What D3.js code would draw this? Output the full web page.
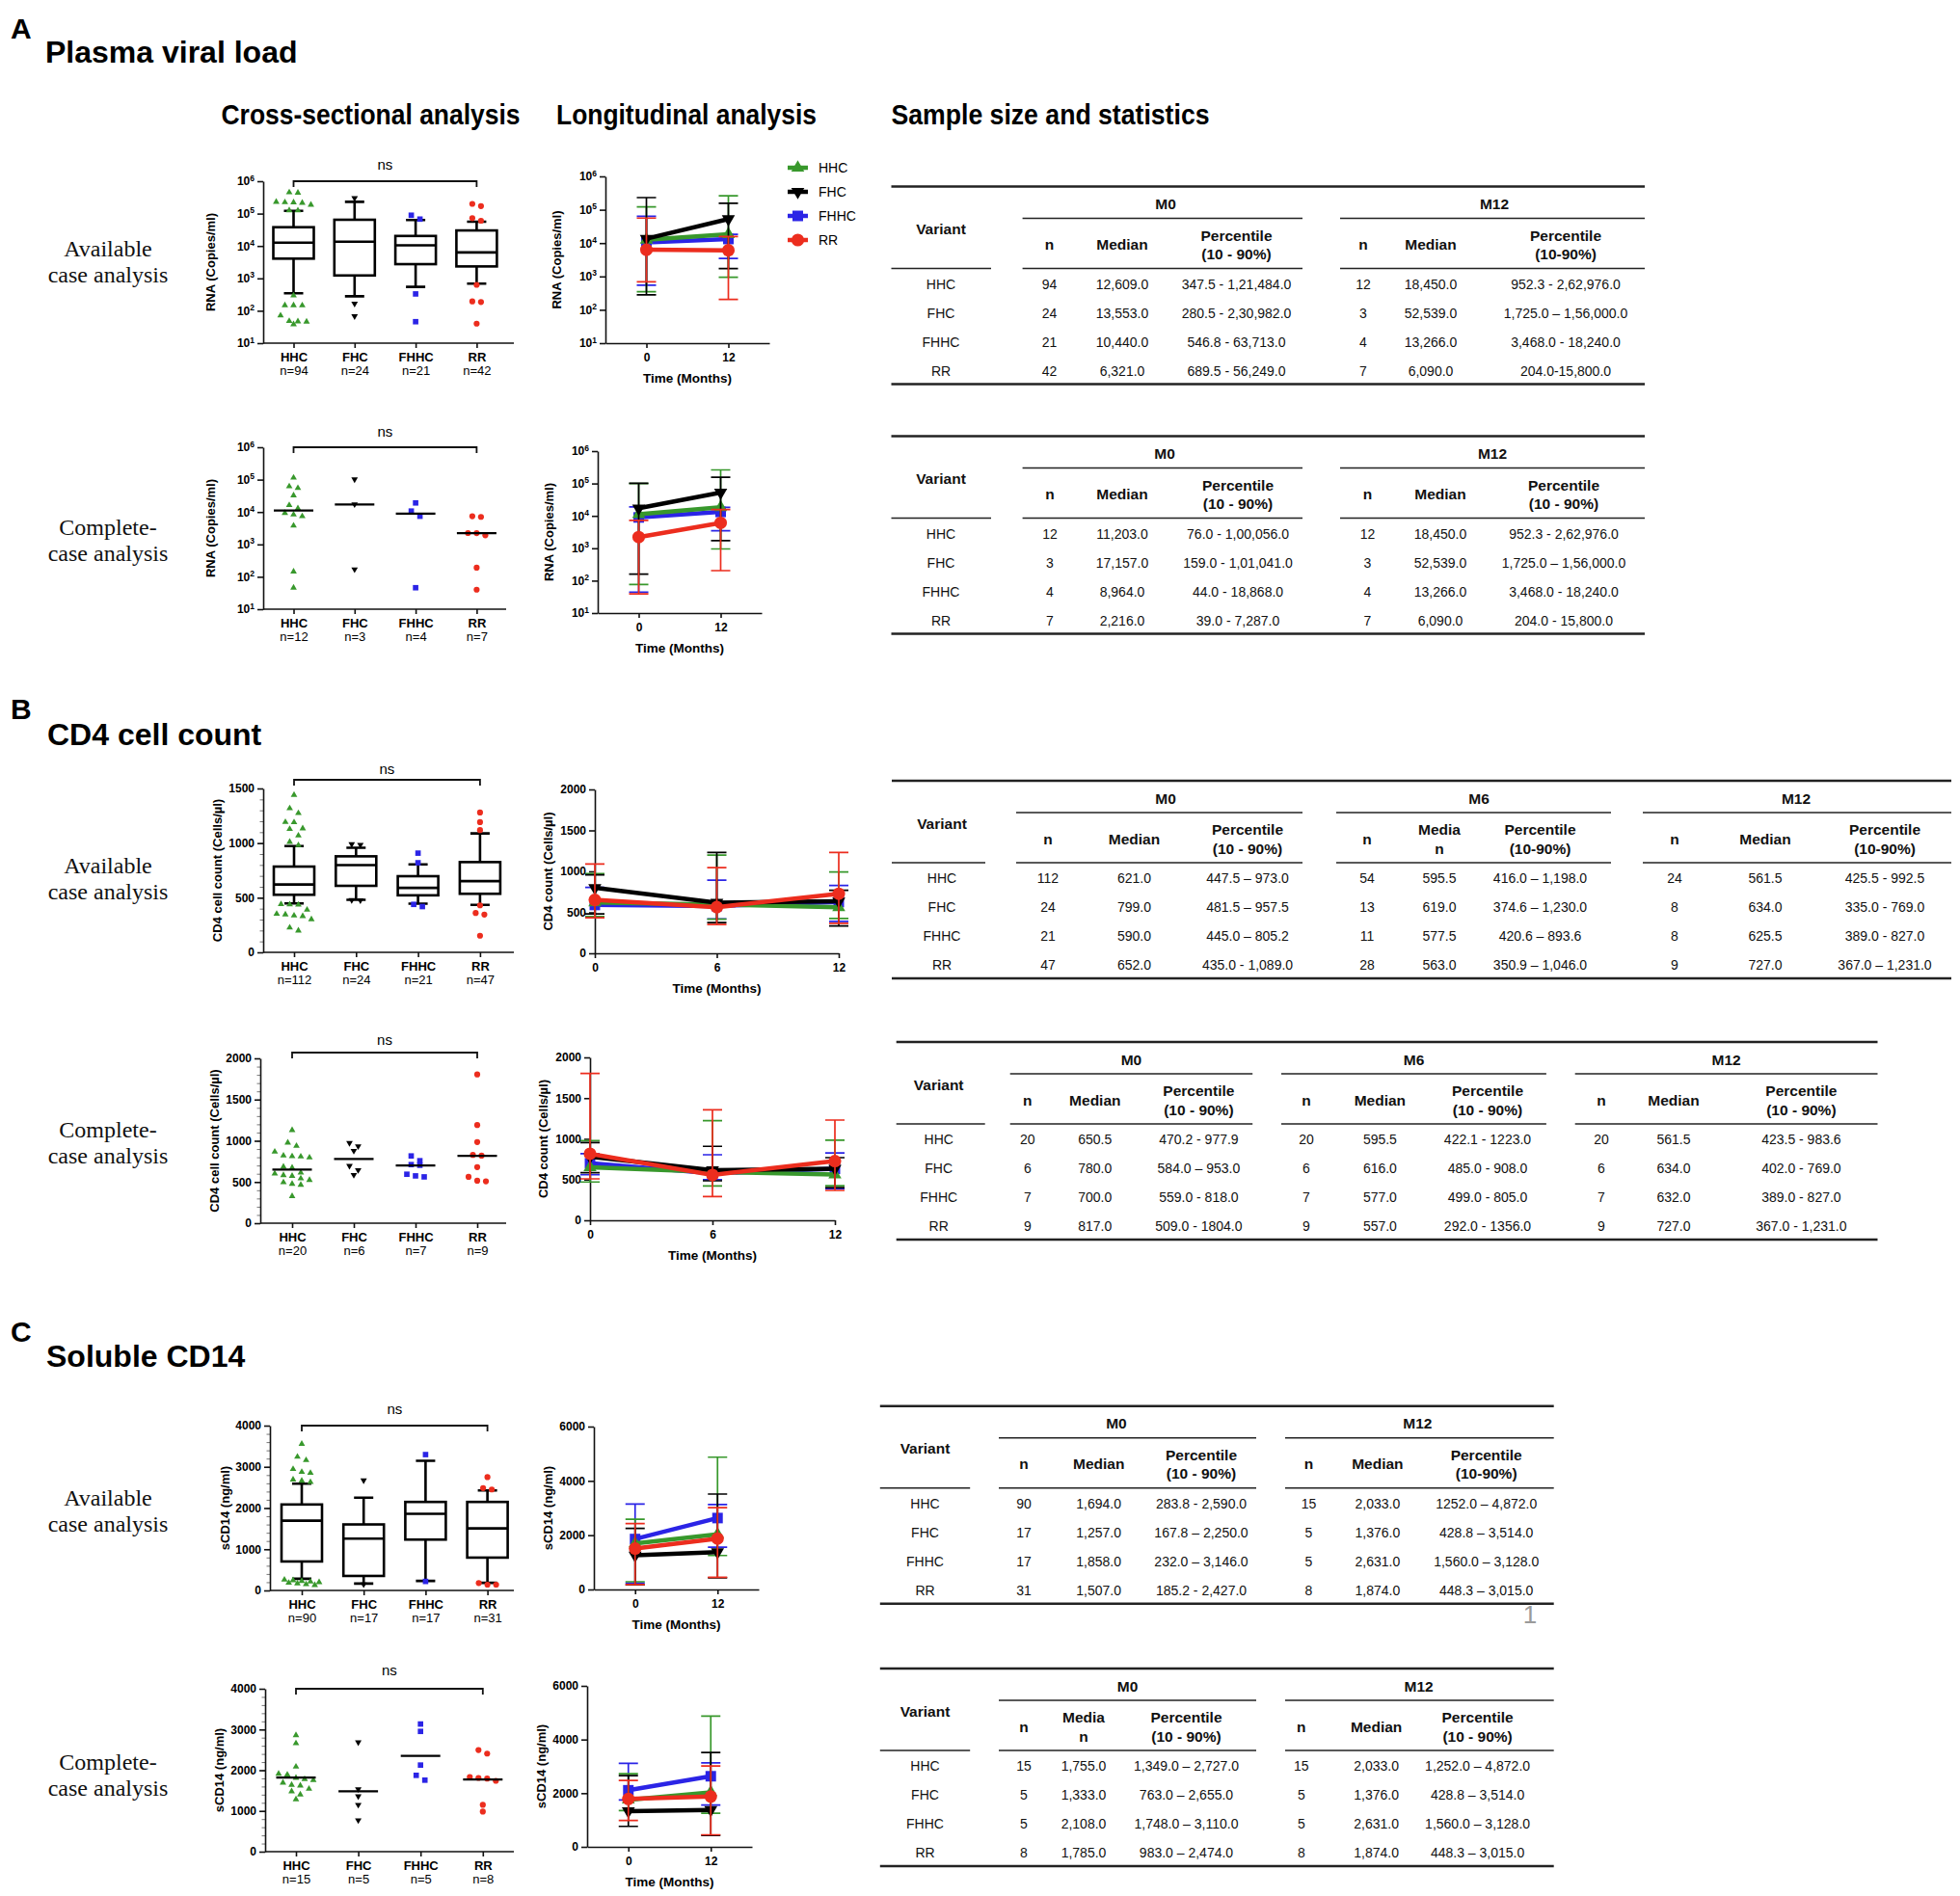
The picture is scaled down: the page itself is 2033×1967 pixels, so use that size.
<!DOCTYPE html>
<html>
<head>
<meta charset="utf-8">
<script src="https://cdn.jsdelivr.net/npm/d3@7"></script>
<style>
  body { margin: 0; background: #fff; }
  svg { display: block; }
</style>
</head>
<body>
<script>
// ---- groups ----
const groups = ["HHC", "FHC", "FHHC", "RR"];
const groupColors = ["#38982c", "#000000", "#2b24e6", "#ec2d1e"];
const groupSymbols = ["up", "down", "square", "circle"];

// ---- A: plasma viral load, cross-sectional ----
const vlAvailN = [94, 24, 21, 42];
const vlAvailQ1 = [4070, 1230, 2750, 2340];
const vlAvailMedian = [12609, 13553, 10440, 6321];
const vlAvailQ3 = [38000, 64600, 20400, 30200];
const vlAvailP10 = [347.5, 280.5, 546.8, 689.5];
const vlAvailP90 = [121484, 230982, 63713, 56249];
const vlAvailOutliers = [
  [450000, 440000, 229000, 224000, 222000, 214000, 186000, 126000, 125000, 295, 148, 147, 146, 71, 48, 47, 46, 38],
  [302000, 166, 68],
  [89100, 67600, 331, 46],
  [200000, 170000, 72400, 60300, 631, 195, 186, 40]
];
const vlCompleteN = [12, 3, 4, 7];
const vlCompleteValues = [
  [115000, 61700, 55000, 32400, 16200, 12900, 9330, 8320, 7410, 3800, 145, 46],
  [102000, 17400, 170],
  [19100, 10700, 7410, 46],
  [7410, 7080, 2240, 2230, 1910, 191, 40]
];
const vlCompleteMedian = [11203, 17157, 8964, 2216];

// ---- A: longitudinal ----
const vlTime = [0, 12];
const vlAvailLongMedian = [[12609, 18450], [13553, 52539], [10440, 13266], [6321, 6090]];
const vlAvailLongP10 = [[347.5, 952.3], [280.5, 1725], [546.8, 3468], [689.5, 204]];
const vlAvailLongP90 = [[121484, 262976], [230982, 156000], [63713, 18240], [56249, 15800]];
const vlCompleteLongMedian = [[11203, 18450], [17157, 52539], [8964, 13266], [2216, 6090]];
const vlCompleteLongP10 = [[76, 952.3], [159, 1725], [44, 3468], [39, 204]];
const vlCompleteLongP90 = [[100056, 262976], [101041, 156000], [18868, 18240], [7287, 15800]];

// ---- B: CD4 cell count, cross-sectional ----
const cd4AvailN = [112, 24, 21, 47];
const cd4AvailQ1 = [527, 609, 522, 536];
const cd4AvailMedian = [621, 799, 590, 652];
const cd4AvailQ3 = [785, 879, 697, 826];
const cd4AvailP10 = [447.5, 481.5, 445, 435];
const cd4AvailP90 = [973, 957.5, 805.2, 1089];
const cd4AvailOutliers = [
  [1441, 1318, 1274, 1192, 1190, 1134, 1128, 1069, 1011, 981, 440, 438, 436, 390, 352, 346, 337, 331, 302, 226, 199],
  [990, 985, 478, 476],
  [908, 820, 439, 419],
  [1280, 1192, 1119, 430, 360, 346, 152]
];
const cd4CompleteN = [20, 6, 7, 9];
const cd4CompleteValues = [
  [1129, 977, 937, 867, 820, 812, 809, 797, 684, 672, 613, 601, 582, 574, 543, 523, 496, 477, 465, 328],
  [973, 934, 879, 695, 645, 586],
  [816, 758, 711, 703, 594, 574, 562],
  [1805, 1191, 984, 828, 820, 680, 562, 516, 508]
];
const cd4CompleteMedian = [650.5, 780, 700, 817];

// ---- B: longitudinal ----
const cd4Time = [0, 6, 12];
const cd4AvailLongMedian = [[621, 595.5, 561.5], [799, 619, 634], [590, 577.5, 625.5], [652, 563, 727]];
const cd4AvailLongP10 = [[447.5, 416, 425.5], [481.5, 374.6, 335], [445, 420.6, 389], [435, 350.9, 367]];
const cd4AvailLongP90 = [[973, 1198, 992.5], [957.5, 1230, 769], [805.2, 893.6, 827], [1089, 1046, 1231]];
const cd4CompleteLongMedian = [[650.5, 595.5, 561.5], [780, 616, 634], [700, 577, 632], [817, 557, 727]];
const cd4CompleteLongP10 = [[470.2, 422.1, 423.5], [584, 485, 402], [559, 499, 389], [509, 292, 367]];
const cd4CompleteLongP90 = [[977.9, 1223, 983.6], [953, 908, 769], [818, 805, 827], [1804, 1356, 1231]];

// ---- C: soluble CD14, cross-sectional ----
const scdAvailN = [90, 17, 17, 31];
const scdAvailQ1 = [703, 352, 1234, 797];
const scdAvailMedian = [1694, 1257, 1858, 1507];
const scdAvailQ3 = [2086, 1602, 2148, 2148];
const scdAvailP10 = [283.8, 167.8, 232, 185.2];
const scdAvailP90 = [2590, 2250, 3146, 2427];
const scdAvailOutliers = [
  [3555, 3242, 3160, 2945, 2875, 2850, 2690, 2660, 2630, 260, 245, 230, 215, 200, 185, 170, 150, 130],
  [2672, 150],
  [3297, 219],
  [2750, 2484, 2450, 180, 141, 140]
];
const scdCompleteN = [15, 5, 5, 8];
const scdCompleteValues = [
  [2858, 2661, 2087, 1913, 1890, 1811, 1780, 1756, 1693, 1638, 1622, 1543, 1480, 1402, 1283],
  [2685, 1535, 1362, 1150, 772],
  [3134, 2953, 2126, 1874, 1756],
  [2496, 2409, 1835, 1811, 1795, 1740, 1150, 984]
];
const scdCompleteMedian = [1820, 1480, 2350, 1772];

// ---- C: longitudinal ----
const scdTime = [0, 12];
const scdAvailLongMedian = [[1694, 2033], [1257, 1376], [1858, 2631], [1507, 1874]];
const scdAvailLongP10 = [[283.8, 1252], [167.8, 428.8], [232, 1560], [185.2, 448.3]];
const scdAvailLongP90 = [[2590, 4872], [2250, 3514], [3146, 3128], [2427, 3015]];
const scdCompleteLongMedian = [[1755, 2033], [1333, 1376], [2108, 2631], [1785, 1874]];
const scdCompleteLongP10 = [[1349, 1252], [763, 428.8], [1748, 1560], [983, 448.3]];
const scdCompleteLongP90 = [[2727, 4872], [2655, 3514], [3110, 3128], [2474, 3015]];

// ---- tables (sample size and statistics) ----
const tableVlAvail = [
  ["HHC", "94", "12,609.0", "347.5 - 1,21,484.0", "12", "18,450.0", "952.3 - 2,62,976.0"],
  ["FHC", "24", "13,553.0", "280.5 - 2,30,982.0", "3", "52,539.0", "1,725.0 \u2013 1,56,000.0"],
  ["FHHC", "21", "10,440.0", "546.8 - 63,713.0", "4", "13,266.0", "3,468.0 - 18,240.0"],
  ["RR", "42", "6,321.0", "689.5 - 56,249.0", "7", "6,090.0", "204.0-15,800.0"]
];
const tableVlComplete = [
  ["HHC", "12", "11,203.0", "76.0 - 1,00,056.0", "12", "18,450.0", "952.3 - 2,62,976.0"],
  ["FHC", "3", "17,157.0", "159.0 - 1,01,041.0", "3", "52,539.0", "1,725.0 \u2013 1,56,000.0"],
  ["FHHC", "4", "8,964.0", "44.0 - 18,868.0", "4", "13,266.0", "3,468.0 - 18,240.0"],
  ["RR", "7", "2,216.0", "39.0 - 7,287.0", "7", "6,090.0", "204.0 - 15,800.0"]
];
const tableCd4Avail = [
  ["HHC", "112", "621.0", "447.5 \u2013 973.0", "54", "595.5", "416.0 \u2013 1,198.0", "24", "561.5", "425.5 - 992.5"],
  ["FHC", "24", "799.0", "481.5 \u2013 957.5", "13", "619.0", "374.6 \u2013 1,230.0", "8", "634.0", "335.0 - 769.0"],
  ["FHHC", "21", "590.0", "445.0 \u2013 805.2", "11", "577.5", "420.6 \u2013 893.6", "8", "625.5", "389.0 - 827.0"],
  ["RR", "47", "652.0", "435.0 - 1,089.0", "28", "563.0", "350.9 \u2013 1,046.0", "9", "727.0", "367.0 \u2013 1,231.0"]
];
const tableCd4Complete = [
  ["HHC", "20", "650.5", "470.2 - 977.9", "20", "595.5", "422.1 - 1223.0", "20", "561.5", "423.5 - 983.6"],
  ["FHC", "6", "780.0", "584.0 \u2013 953.0", "6", "616.0", "485.0 - 908.0", "6", "634.0", "402.0 - 769.0"],
  ["FHHC", "7", "700.0", "559.0 - 818.0", "7", "577.0", "499.0 - 805.0", "7", "632.0", "389.0 - 827.0"],
  ["RR", "9", "817.0", "509.0 - 1804.0", "9", "557.0", "292.0 - 1356.0", "9", "727.0", "367.0 - 1,231.0"]
];
const tableScdAvail = [
  ["HHC", "90", "1,694.0", "283.8 - 2,590.0", "15", "2,033.0", "1252.0 \u2013 4,872.0"],
  ["FHC", "17", "1,257.0", "167.8 \u2013 2,250.0", "5", "1,376.0", "428.8 \u2013 3,514.0"],
  ["FHHC", "17", "1,858.0", "232.0 \u2013 3,146.0", "5", "2,631.0", "1,560.0 \u2013 3,128.0"],
  ["RR", "31", "1,507.0", "185.2 - 2,427.0", "8", "1,874.0", "448.3 \u2013 3,015.0"]
];
const tableScdComplete = [
  ["HHC", "15", "1,755.0", "1,349.0 \u2013 2,727.0", "15", "2,033.0", "1,252.0 \u2013 4,872.0"],
  ["FHC", "5", "1,333.0", "763.0 \u2013 2,655.0", "5", "1,376.0", "428.8 \u2013 3,514.0"],
  ["FHHC", "5", "2,108.0", "1,748.0 \u2013 3,110.0", "5", "2,631.0", "1,560.0 \u2013 3,128.0"],
  ["RR", "8", "1,785.0", "983.0 \u2013 2,474.0", "8", "1,874.0", "448.3 \u2013 3,015.0"]
];

// ================= drawing =================
const FONT = '"Liberation Sans", Arial, Helvetica, sans-serif';
const SERIF = '"Liberation Serif", "Times New Roman", serif';
const W = 2033, H = 1967;

const svg = d3.select("body").append("svg")
  .attr("width", W).attr("height", H)
  .attr("font-family", FONT);
svg.append("rect").attr("width", W).attr("height", H).attr("fill", "#fff");

const symbolTypes = { up: d3.symbolTriangle, down: d3.symbolTriangle, square: d3.symbolSquare, circle: d3.symbolCircle };
const smallSize = { up: 20, down: 20, square: 32, circle: 30 };
const bigSize = { up: 80, down: 80, square: 120, circle: 135 };

function mark(g, kind, x, y, size, color) {
  g.append("path")
    .attr("d", d3.symbol().type(symbolTypes[kind]).size(size)())
    .attr("fill", color)
    .attr("transform", `translate(${x},${y})` + (kind === "down" ? " rotate(180)" : ""));
}

function styleAxis(sel, fs) {
  sel.attr("font-family", FONT);
  sel.select(".domain").attr("stroke", "#111").attr("stroke-width", 1.6);
  sel.selectAll(".tick line").attr("stroke", "#111").attr("stroke-width", 1.6);
  sel.selectAll(".tick text").attr("fill", "#000").attr("font-size", fs).attr("font-weight", "bold");
}

function supers(sel) {
  sel.selectAll(".tick text").each(function (v) {
    const t = d3.select(this);
    t.text("10");
    t.append("tspan").attr("dy", "-0.55em").attr("font-size", 8.5).text(Math.round(Math.log10(v)));
  });
}

// horizontal spread of points that sit at nearly the same height
function swarm(vals, y, step, rowH, rowMax) {
  const sorted = vals.slice().sort((a, b) => b - a);
  const rows = [];
  let cur = null;
  sorted.forEach(v => {
    const py = y(v);
    if (!cur || py - cur.y0 > rowH || cur.items.length >= rowMax) {
      cur = { y0: py, items: [] };
      rows.push(cur);
    }
    cur.items.push(v);
  });
  const out = [];
  rows.forEach(r => r.items.forEach((v, i) => out.push({ v: v, dx: (i - (r.items.length - 1) / 2) * step })));
  return out;
}

function yLabel(g, x, y, label) {
  g.append("text")
    .attr("transform", `translate(${x},${y}) rotate(-90)`)
    .attr("dy", "0.35em").attr("text-anchor", "middle")
    .attr("font-weight", "bold").attr("font-size", 13)
    .text(label);
}

function yAxis(g, c, y) {
  const yTicks = c.log ? [10, 100, 1e3, 1e4, 1e5, 1e6] : d3.range(0, c.max + 1, c.major);
  const ax = d3.axisLeft(y).tickValues(yTicks).tickSize(6).tickSizeOuter(0).tickPadding(3);
  if (!c.log) ax.tickFormat(d3.format("d"));
  const ya = g.append("g").attr("transform", `translate(${c.ax},0)`).call(ax);
  styleAxis(ya, 12);
  if (c.log) supers(ya);
}

function crossPlot(c, d) {
  const g = svg.append("g");
  const y = c.log ? d3.scaleLog().domain([10, 1e6]).range([c.bot, c.top])
                  : d3.scaleLinear().domain([0, c.max]).range([c.bot, c.top]);
  const x = d3.scalePoint().domain(groups).range([c.c0, c.c0 + 3 * c.step]);

  if (c.minor) {
    const mg = g.append("g").attr("transform", `translate(${c.ax},0)`)
      .call(d3.axisLeft(y).tickValues(d3.range(0, c.max + 1, c.minor)).tickSize(3.5).tickSizeOuter(0).tickFormat(""));
    mg.select(".domain").remove();
    mg.selectAll(".tick line").attr("stroke", "#777").attr("stroke-width", 1);
  }
  yAxis(g, c, y);

  const xa = g.append("g").attr("transform", `translate(0,${c.bot})`)
    .call(d3.axisBottom(x).tickSize(5).tickSizeOuter(0).tickFormat(""));
  xa.select(".domain").attr("d", `M${c.ax},0H${c.xEnd}`);
  styleAxis(xa, 13);
  xa.selectAll(".tick").each(function (gname, i) {
    const t = d3.select(this);
    t.append("text").attr("y", 19).attr("text-anchor", "middle").attr("font-weight", "bold")
      .attr("font-size", 13).attr("fill", "#000").text(gname);
    t.append("text").attr("y", 33).attr("text-anchor", "middle")
      .attr("font-size", 13).attr("fill", "#000").text("n=" + d.n[i]);
  });

  yLabel(g, c.ax + c.labelDx, (c.top + c.bot) / 2, c.label);

  // ns bracket
  const by = c.top + c.bracketDy, bx0 = x("HHC"), bx1 = x("RR");
  g.append("path").attr("d", `M${bx0},${by + 6}V${by}H${bx1}V${by + 6}`)
    .attr("fill", "none").attr("stroke", "#111").attr("stroke-width", 1.8);
  g.append("text").attr("x", (bx0 + bx1) / 2).attr("y", by + c.nsDy + 5)
    .attr("text-anchor", "middle").attr("font-size", 15).text("ns");

  if (d.q1) {
    groups.forEach((gn, i) => {
      const cx = x(gn), hw = 21, cw = 10;
      const yq1 = y(d.q1[i]), yq3 = y(d.q3[i]), ymd = y(d.median[i]);
      const ylo = y(d.p10[i]), yhi = y(d.p90[i]);
      g.append("path")
        .attr("d", `M${cx},${yq3}V${yhi}M${cx - cw},${yhi}H${cx + cw}M${cx},${yq1}V${ylo}M${cx - cw},${ylo}H${cx + cw}`)
        .attr("stroke", "#000").attr("stroke-width", 2.6).attr("fill", "none");
      g.append("rect").attr("x", cx - hw).attr("y", yq3).attr("width", 2 * hw).attr("height", yq1 - yq3)
        .attr("fill", "#fff").attr("stroke", "#000").attr("stroke-width", 2.6);
      g.append("line").attr("x1", cx - hw).attr("x2", cx + hw).attr("y1", ymd).attr("y2", ymd)
        .attr("stroke", "#000").attr("stroke-width", 2.6);
    });
  }
  groups.forEach((gn, i) => {
    const vals = d.q1 ? d.outliers[i] : d.values[i];
    swarm(vals, y, 9, 7, 5).forEach(p =>
      mark(g, groupSymbols[i], x(gn) + p.dx, y(p.v), smallSize[groupSymbols[i]], groupColors[i]));
  });
  if (!d.q1) {
    groups.forEach((gn, i) => {
      const ym = y(d.median[i]);
      g.append("line").attr("x1", x(gn) - 20.5).attr("x2", x(gn) + 20.5).attr("y1", ym).attr("y2", ym)
        .attr("stroke", "#000").attr("stroke-width", 2.2);
    });
  }
}

const drawOrder = [2, 0, 1, 3];

function longPlot(c, d) {
  const g = svg.append("g");
  const y = c.log ? d3.scaleLog().domain([10, 1e6]).range([c.bot, c.top])
                  : d3.scaleLinear().domain([0, c.max]).range([c.bot, c.top]);
  const x = d3.scaleLinear().domain(c.xDomain).range([c.ax, c.xEnd]);
  yAxis(g, c, y);
  const xa = g.append("g").attr("transform", `translate(0,${c.bot})`)
    .call(d3.axisBottom(x).tickValues(c.xTicks).tickSize(5).tickSizeOuter(0).tickPadding(5).tickFormat(d3.format("d")));
  styleAxis(xa, 12);
  g.append("text").attr("x", (c.ax + c.xEnd) / 2).attr("y", c.bot + 41)
    .attr("text-anchor", "middle").attr("font-weight", "bold").attr("font-size", 13.5).text("Time (Months)");
  yLabel(g, c.ax + c.labelDx, (c.top + c.bot) / 2, c.label);

  drawOrder.forEach(i => {
    const col = groupColors[i];
    d.time.forEach((t, k) => {
      const xx = x(t), lo = y(d.p10[i][k]), hi = y(d.p90[i][k]);
      g.append("path")
        .attr("d", `M${xx},${hi}V${lo}M${xx - 10},${hi}H${xx + 10}M${xx - 10},${lo}H${xx + 10}`)
        .attr("stroke", col).attr("stroke-width", 1.7).attr("fill", "none");
    });
    g.append("path")
      .datum(d.time.map((t, k) => [x(t), y(d.median[i][k])]))
      .attr("d", d3.line())
      .attr("stroke", col).attr("stroke-width", 4.5).attr("fill", "none");
    d.time.forEach((t, k) => mark(g, groupSymbols[i], x(t), y(d.median[i][k]), bigSize[groupSymbols[i]], col));
  });
}

function drawTable(c, rows) {
  const g = svg.append("g").attr("fill", "#111");
  const t = c.top;
  const rule = (x0, x1, yy, w) => g.append("line").attr("x1", x0).attr("x2", x1).attr("y1", yy).attr("y2", yy)
    .attr("stroke", "#222").attr("stroke-width", w);
  const txt = (xx, yc, s, bold) => {
    const fs = bold ? 15.5 : 14;
    g.append("text").attr("x", xx).attr("y", yc + fs * 0.36)
      .attr("text-anchor", "middle").attr("font-size", fs).attr("font-weight", bold ? "bold" : null).text(s);
  };

  rule(c.x0, c.x1, t, 2.4);
  rule(c.x0, c.x1, t + 205, 2.4);
  rule(c.x0, c.varEnd, t + 85, 1.6);
  txt(c.varX, t + 44, "Variant", true);
  c.blocks.forEach(b => {
    txt(b.labelX, t + 18, b.label, true);
    rule(b.x0, b.x1, t + 33, 1.6);
    rule(b.x0, b.x1, t + 85, 1.6);
    txt(b.nX, t + 60, "n", true);
    if (b.split) {
      txt(b.medX, t + 50.5, "Media", true);
      txt(b.medX, t + 70, "n", true);
    } else {
      txt(b.medX, t + 60, "Median", true);
    }
    txt(b.pctX, t + 50.5, "Percentile", true);
    txt(b.pctX, t + 70, b.sub, true);
  });
  rows.forEach((r, i) => {
    const yc = t + 101 + 30 * i;
    txt(c.varX, yc, r[0]);
    c.blocks.forEach((b, j) => {
      txt(b.nX, yc, r[1 + 3 * j]);
      txt(b.medX, yc, r[2 + 3 * j]);
      txt(b.pctX, yc, r[3 + 3 * j]);
    });
  });
}

// ---- headings ----
function heading(x, y, s, fs, len) {
  const t = svg.append("text").attr("x", x).attr("y", y).attr("font-weight", "bold").attr("font-size", fs).attr("fill", "#000").text(s);
  if (len) t.attr("textLength", len).attr("lengthAdjust", "spacingAndGlyphs");
}
heading(11, 40, "A", 30);
heading(47, 65, "Plasma viral load", 32);
heading(11, 746, "B", 30);
heading(49, 773, "CD4 cell count", 32);
heading(11, 1392, "C", 30);
heading(48, 1418, "Soluble CD14", 32);
heading(229.5, 129, "Cross-sectional analysis", 30, 310);
heading(577, 129, "Longitudinal analysis", 30, 270);
heading(924.5, 129, "Sample size and statistics", 30, 330);

function rowLabel(yb, first) {
  [first, "case analysis"].forEach((s, k) => svg.append("text")
    .attr("x", 112).attr("y", yb + 27 * k).attr("text-anchor", "middle")
    .attr("font-family", SERIF).attr("font-size", 24).attr("fill", "#111").text(s));
}
rowLabel(266, "Available");
rowLabel(555, "Complete-");
rowLabel(906, "Available");
rowLabel(1180, "Complete-");
rowLabel(1562, "Available");
rowLabel(1836, "Complete-");

// ---- panel A ----
crossPlot({ ax: 273, top: 188, bot: 356, xEnd: 533, c0: 304.5, step: 63.3, log: true,
  label: "RNA (Copies/ml)", labelDx: -55, bracketDy: 0, nsDy: -17 },
  { n: vlAvailN, q1: vlAvailQ1, median: vlAvailMedian, q3: vlAvailQ3, p10: vlAvailP10, p90: vlAvailP90, outliers: vlAvailOutliers });
crossPlot({ ax: 273, top: 464, bot: 632, xEnd: 525, c0: 304.5, step: 63.3, log: true,
  label: "RNA (Copies/ml)", labelDx: -55, bracketDy: 0, nsDy: -16 },
  { n: vlCompleteN, values: vlCompleteValues, median: vlCompleteMedian });
longPlot({ ax: 628, top: 183, bot: 356, xEnd: 798, xDomain: [-6, 18], xTicks: [0, 12], log: true,
  label: "RNA (Copies/ml)", labelDx: -51 },
  { time: vlTime, median: vlAvailLongMedian, p10: vlAvailLongP10, p90: vlAvailLongP90 });
longPlot({ ax: 620, top: 468, bot: 636, xEnd: 790, xDomain: [-6, 18], xTicks: [0, 12], log: true,
  label: "RNA (Copies/ml)", labelDx: -51 },
  { time: vlTime, median: vlCompleteLongMedian, p10: vlCompleteLongP10, p90: vlCompleteLongP90 });

// legend
const legend = svg.append("g");
groups.forEach((gn, i) => {
  const ly = 174 + 25 * i;
  legend.append("line").attr("x1", 817).attr("x2", 838).attr("y1", ly).attr("y2", ly)
    .attr("stroke", groupColors[i]).attr("stroke-width", 4.5);
  mark(legend, groupSymbols[i], 827.5, ly, bigSize[groupSymbols[i]], groupColors[i]);
  legend.append("text").attr("x", 849).attr("y", ly + 5).attr("font-size", 14).text(gn);
});

// ---- panel B ----
crossPlot({ ax: 273, top: 818, bot: 988, xEnd: 533, c0: 305, step: 64.3, max: 1500, major: 500, minor: 100,
  label: "CD4 cell count (Cells/\u00b5l)", labelDx: -48, bracketDy: -9, nsDy: -11 },
  { n: cd4AvailN, q1: cd4AvailQ1, median: cd4AvailMedian, q3: cd4AvailQ3, p10: cd4AvailP10, p90: cd4AvailP90, outliers: cd4AvailOutliers });
crossPlot({ ax: 270, top: 1098, bot: 1269, xEnd: 525, c0: 303, step: 64, max: 2000, major: 500, minor: 100,
  label: "CD4 cell count (Cells/\u00b5l)", labelDx: -48, bracketDy: -6, nsDy: -13 },
  { n: cd4CompleteN, values: cd4CompleteValues, median: cd4CompleteMedian });
longPlot({ ax: 617, top: 819, bot: 989, xEnd: 870, xDomain: [0, 12], xTicks: [0, 6, 12], max: 2000, major: 500,
  label: "CD4 count (Cells/\u00b5l)", labelDx: -49 },
  { time: cd4Time, median: cd4AvailLongMedian, p10: cd4AvailLongP10, p90: cd4AvailLongP90 });
longPlot({ ax: 612, top: 1097, bot: 1266, xEnd: 866, xDomain: [0, 12], xTicks: [0, 6, 12], max: 2000, major: 500,
  label: "CD4 count (Cells/\u00b5l)", labelDx: -49 },
  { time: cd4Time, median: cd4CompleteLongMedian, p10: cd4CompleteLongP10, p90: cd4CompleteLongP90 });

// ---- panel C ----
crossPlot({ ax: 280, top: 1479, bot: 1650, xEnd: 533, c0: 313, step: 64.2, max: 4000, major: 1000, minor: 200,
  label: "sCD14 (ng/ml)", labelDx: -47, bracketDy: 0, nsDy: -17 },
  { n: scdAvailN, q1: scdAvailQ1, median: scdAvailMedian, q3: scdAvailQ3, p10: scdAvailP10, p90: scdAvailP90, outliers: scdAvailOutliers });
crossPlot({ ax: 275, top: 1752, bot: 1921, xEnd: 533, c0: 307, step: 64.6, max: 4000, major: 1000, minor: 200,
  label: "sCD14 (ng/ml)", labelDx: -48, bracketDy: 0, nsDy: -19 },
  { n: scdCompleteN, values: scdCompleteValues, median: scdCompleteMedian });
longPlot({ ax: 616, top: 1480, bot: 1649, xEnd: 787, xDomain: [-6, 18], xTicks: [0, 12], max: 6000, major: 2000,
  label: "sCD14 (ng/ml)", labelDx: -48 },
  { time: scdTime, median: scdAvailLongMedian, p10: scdAvailLongP10, p90: scdAvailLongP90 });
longPlot({ ax: 609, top: 1749, bot: 1916, xEnd: 780, xDomain: [-6, 18], xTicks: [0, 12], max: 6000, major: 2000,
  label: "sCD14 (ng/ml)", labelDx: -48 },
  { time: scdTime, median: scdCompleteLongMedian, p10: scdCompleteLongP10, p90: scdCompleteLongP90 });

// ---- tables ----
drawTable({ top: 193.5, x0: 924.5, x1: 1706, varX: 976, varEnd: 1028, blocks: [
  { label: "M0", labelX: 1209, x0: 1060.6, x1: 1351, nX: 1088.5, medX: 1164, pctX: 1282.5, sub: "(10 - 90%)" },
  { label: "M12", labelX: 1550, x0: 1390, x1: 1706, nX: 1414, medX: 1484, pctX: 1624, sub: "(10-90%)" }
] }, tableVlAvail);
drawTable({ top: 452.5, x0: 924.5, x1: 1706, varX: 976, varEnd: 1028, blocks: [
  { label: "M0", labelX: 1208, x0: 1060.6, x1: 1351, nX: 1089, medX: 1164, pctX: 1284, sub: "(10 - 90%)" },
  { label: "M12", labelX: 1548, x0: 1390, x1: 1706, nX: 1418.5, medX: 1494, pctX: 1622, sub: "(10 - 90%)" }
] }, tableVlComplete);
drawTable({ top: 810, x0: 925, x1: 2024, varX: 977, varEnd: 1022, blocks: [
  { label: "M0", labelX: 1209, x0: 1054, x1: 1351, nX: 1087, medX: 1176.5, pctX: 1294, sub: "(10 - 90%)" },
  { label: "M6", labelX: 1534, x0: 1386, x1: 1671, nX: 1418, medX: 1493, pctX: 1597.5, sub: "(10-90%)", split: true },
  { label: "M12", labelX: 1863, x0: 1704, x1: 2024, nX: 1737, medX: 1831, pctX: 1955, sub: "(10-90%)" }
] }, tableCd4Avail);
drawTable({ top: 1081, x0: 929.7, x1: 1947.5, varX: 973.7, varEnd: 1021.7, blocks: [
  { label: "M0", labelX: 1173.4, x0: 1047.7, x1: 1299.2, nX: 1065.8, medX: 1135.8, pctX: 1243.4, sub: "(10 - 90%)" },
  { label: "M6", labelX: 1466.5, x0: 1329, x1: 1603.9, nX: 1355, medX: 1431.4, pctX: 1543, sub: "(10 - 90%)" },
  { label: "M12", labelX: 1790.6, x0: 1633.7, x1: 1947.5, nX: 1661, medX: 1736, pctX: 1868.4, sub: "(10 - 90%)" }
] }, tableCd4Complete);
drawTable({ top: 1458.7, x0: 912.8, x1: 1611.7, varX: 959.5, varEnd: 1006.2, blocks: [
  { label: "M0", labelX: 1157.9, x0: 1036, x1: 1303, nX: 1062, medX: 1139.7, pctX: 1246, sub: "(10 - 90%)" },
  { label: "M12", labelX: 1470.3, x0: 1333, x1: 1611.7, nX: 1357.5, medX: 1428.9, pctX: 1541.7, sub: "(10-90%)" }
] }, tableScdAvail);
drawTable({ top: 1731, x0: 912.8, x1: 1611.7, varX: 959.5, varEnd: 1006.2, blocks: [
  { label: "M0", labelX: 1169.5, x0: 1036, x1: 1303, nX: 1062, medX: 1124, pctX: 1230.5, sub: "(10 - 90%)", split: true },
  { label: "M12", labelX: 1471.6, x0: 1333, x1: 1611.7, nX: 1349.8, medX: 1427.6, pctX: 1532.6, sub: "(10 - 90%)" }
] }, tableScdComplete);

// page number remnant next to the soluble CD14 table
svg.append("text").attr("x", 1587).attr("y", 1684).attr("text-anchor", "middle")
  .attr("font-size", 26).attr("fill", "#9a9a9a").text("1");
</script>
</body>
</html>
